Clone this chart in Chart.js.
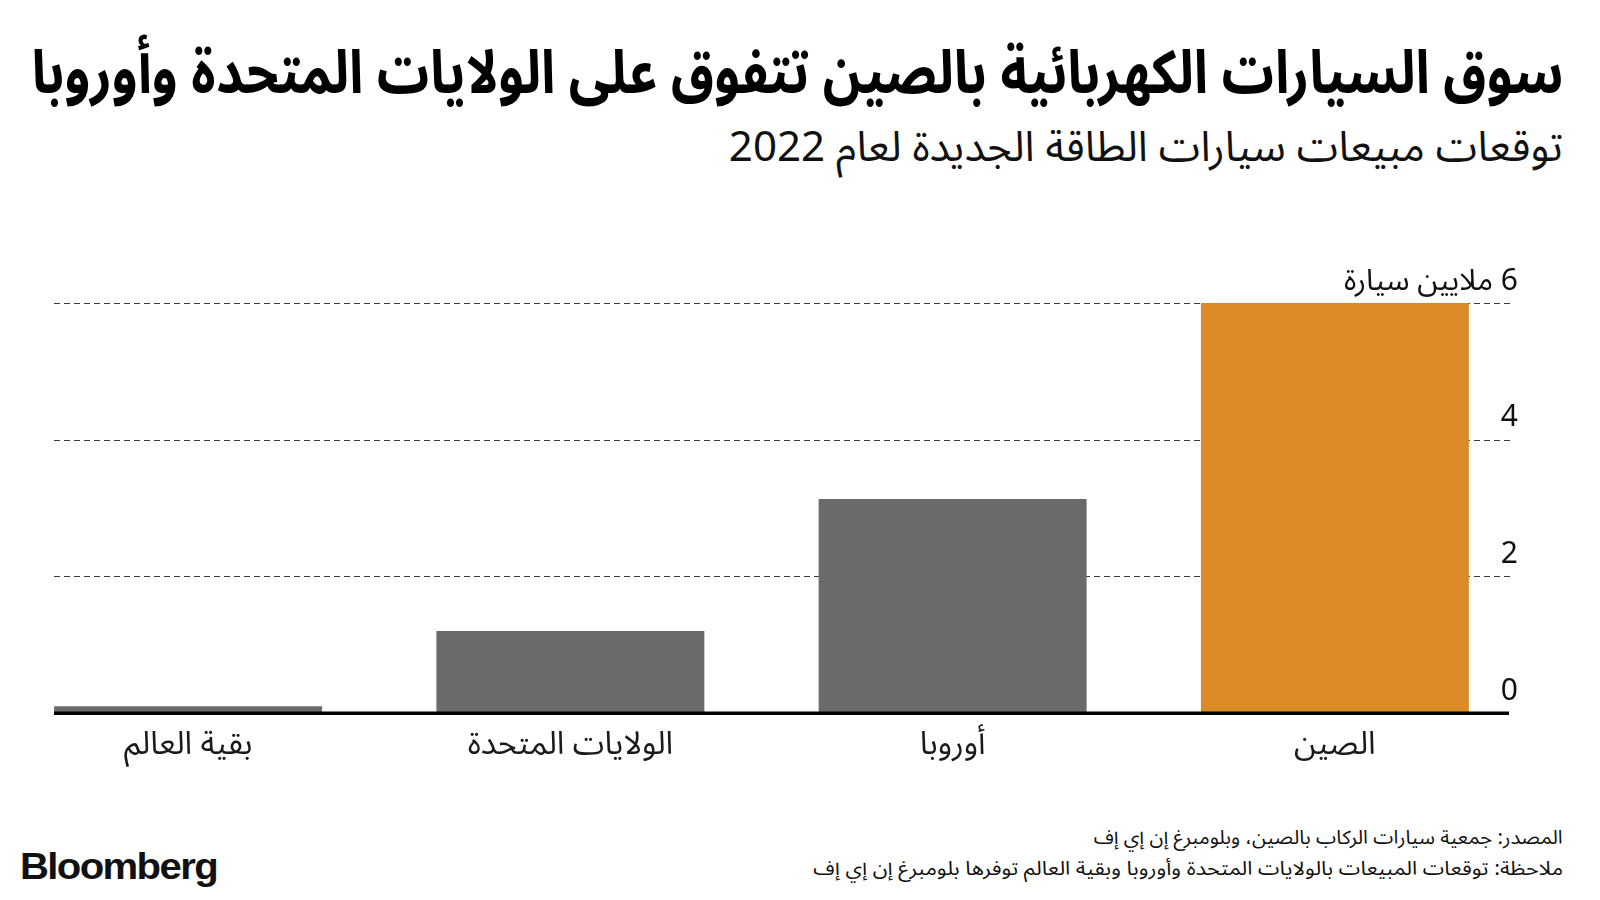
<!DOCTYPE html>
<html lang="ar">
<head>
<meta charset="utf-8">
<script src="https://cdn.jsdelivr.net/npm/chart.js@4.4.1/dist/chart.umd.min.js"></script>
<style>
  html, body { margin:0; padding:0; background:#fff; width:1600px; height:900px; overflow:hidden; }
  body { position:relative; font-family:"Noto Sans Arabic","DejaVu Sans","Noto Sans",sans-serif; color:#111; }
  .t { position:absolute; white-space:nowrap; direction:rtl; transform-origin:100% 50%; }
  #title { right:37px; top:39px; font-size:60px; font-weight:bold; line-height:70px; color:#000; }
  #subtitle { right:37px; top:122px; font-size:42px; line-height:52px; color:#111; }
  #source { right:37px; top:825px; font-size:19px; line-height:26px; }
  #note { right:37px; top:856px; font-size:19px; line-height:26px; }
  #logo { position:absolute; left:20px; top:843px; font-family:"Liberation Sans","Inter",sans-serif; font-weight:bold; font-size:37px; letter-spacing:-1.5px; line-height:48px; transform-origin:0 50%; }
  #wrap { position:absolute; left:-10px; top:0; width:1620px; height:900px; }
</style>
</head>
<body>
<div id="title" class="t" data-w="1532">سوق السيارات الكهربائية بالصين تتفوق على الولايات المتحدة وأوروبا</div>
<div id="subtitle" class="t" data-w="834">توقعات مبيعات سيارات الطاقة الجديدة لعام 2022</div>
<div id="source" class="t" data-w="469">المصدر: جمعية سيارات الركاب بالصين، وبلومبرغ إن إي إف</div>
<div id="note" class="t" data-w="750">ملاحظة: توقعات المبيعات بالولايات المتحدة وأوروبا وبقية العالم توفرها بلومبرغ إن إي إف</div>
<div id="logo">Bloomberg</div>
<div id="wrap"><canvas id="c" width="1620" height="900"></canvas></div>
<script>
const categories = ['بقية العالم', 'الولايات المتحدة', 'أوروبا', 'الصين'];
const salesMillions = [0.1, 1.2, 3.13, 6.0];
const barColors = ['#6a6a6a', '#6a6a6a', '#6a6a6a', '#db8a28'];
const yTickValues = [0, 2, 4, 6];
const yTickLabels = ['0', '2', '4', '6 ملايين سيارة'];

// fit header / footer texts to the reference widths
document.querySelectorAll('.t').forEach(el => {
  const target = +el.dataset.w;
  const w = el.getBoundingClientRect().width;
  if (w > 0) el.style.transform = 'scaleX(' + (target / w) + ')';
});
(function(){
  const el = document.getElementById('logo');
  const w = el.getBoundingClientRect().width;
  el.style.transform = 'scaleX(' + (197 / w) + ')';
})();

const OFF = 10; // canvas offset (canvas starts at page x = -10)
const arabicFont = '"Noto Sans Arabic","DejaVu Sans","Noto Sans",sans-serif';

const gridPlugin = {
  id: 'gridPlugin',
  beforeDatasetsDraw(chart) {
    const y = chart.scales.y, ctx = chart.ctx;
    ctx.save();
    ctx.strokeStyle = '#3a3a3a';
    ctx.lineWidth = 1;
    ctx.setLineDash([6, 4]);
    yTickValues.forEach(v => {
      if (v === 0) return;
      const py = Math.round(y.getPixelForValue(v)) + 0.5;
      ctx.beginPath();
      ctx.moveTo(54 + OFF, py);
      ctx.lineTo(1510 + OFF, py);
      ctx.stroke();
    });
    ctx.restore();
  },
  afterDatasetsDraw(chart) {
    const x = chart.scales.x, y = chart.scales.y, ctx = chart.ctx;
    ctx.save();
    // baseline
    const py0 = y.getPixelForValue(0);
    ctx.fillStyle = '#000';
    ctx.fillRect(54 + OFF, py0 - 1.5, 1455, 3.5);
    // y tick labels
    ctx.fillStyle = '#111';
    ctx.font = '30px ' + arabicFont;
    ctx.direction = 'rtl';
    ctx.textAlign = 'right';
    ctx.textBaseline = 'middle';
    yTickValues.forEach((v, i) => {
      ctx.fillText(yTickLabels[i], 1518 + OFF, y.getPixelForValue(v) - 18);
    });
    // category labels
    ctx.textAlign = 'center';
    ctx.font = '32px ' + arabicFont;
    ctx.fillStyle = '#1a1a1a';
    categories.forEach((c, i) => {
      ctx.fillText(c, x.getPixelForValue(i), 749);
    });
    ctx.restore();
  }
};

new Chart(document.getElementById('c'), {
  type: 'bar',
  data: {
    labels: categories,
    datasets: [{
      data: salesMillions,
      backgroundColor: barColors,
      borderWidth: 0,
      barPercentage: 0.701,
      categoryPercentage: 1.0
    }]
  },
  options: {
    responsive: false,
    animation: false,
    events: [],
    layout: { padding: { left: 7, right: 84, top: 303, bottom: 187 } },
    plugins: { legend: { display: false }, tooltip: { enabled: false }, title: { display: false } },
    scales: {
      x: { display: false, offset: true },
      y: { display: false, min: 0, max: 6 }
    }
  },
  plugins: [gridPlugin]
});
</script>
</body>
</html>
